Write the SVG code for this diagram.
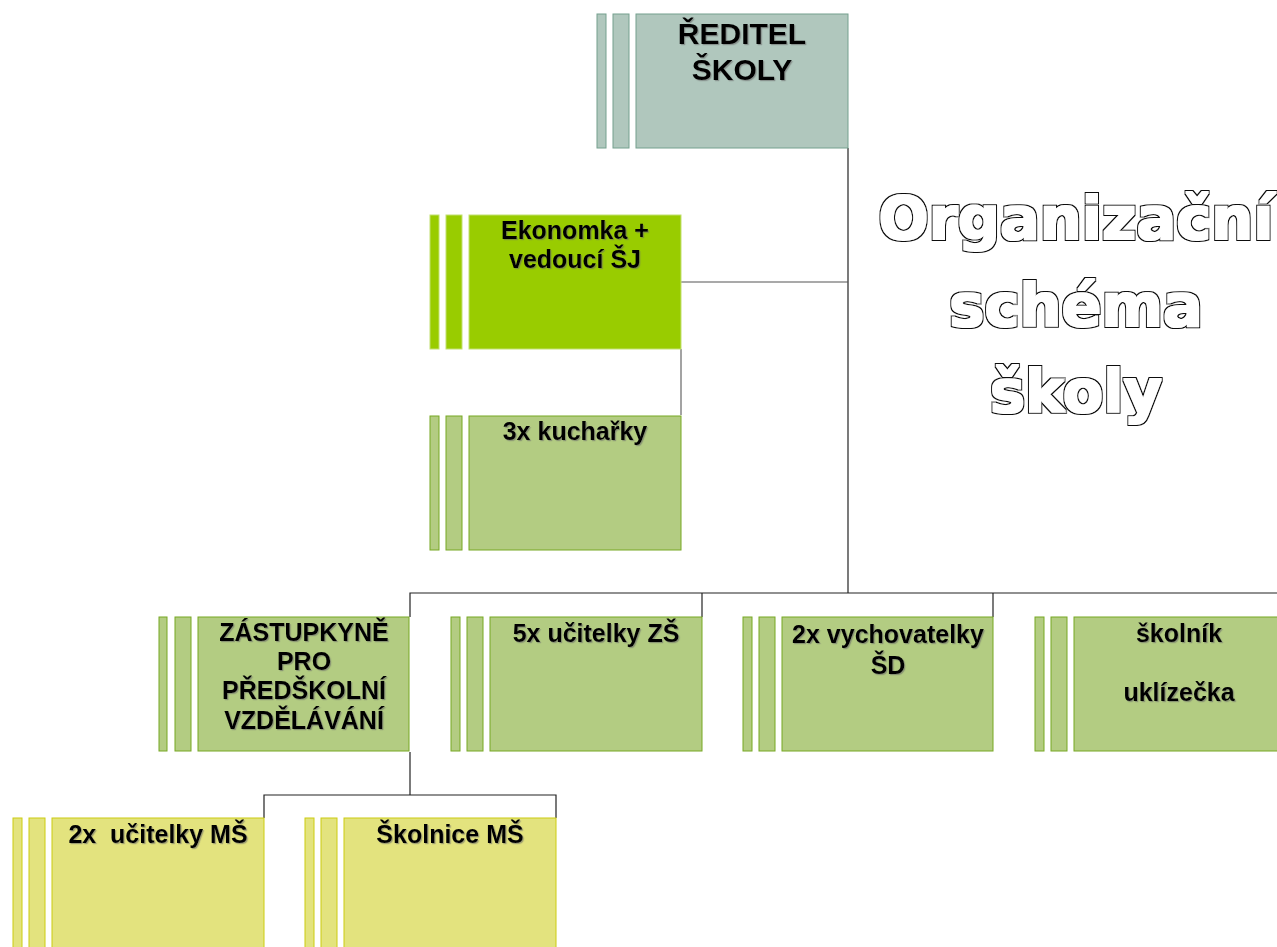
<svg xmlns="http://www.w3.org/2000/svg" width="1277" height="947" viewBox="0 0 1277 947">
<defs>
<filter id="sh" x="-10%" y="-10%" width="120%" height="130%">
<feDropShadow dx="1.2" dy="1.2" stdDeviation="0.4" flood-color="#666" flood-opacity="0.55"/>
</filter>
<filter id="outline" x="-5%" y="-25%" width="110%" height="150%">
<feMorphology in="SourceAlpha" operator="dilate" radius="0.8" result="fat"/>
<feMorphology in="SourceAlpha" operator="dilate" radius="1.8" result="outer"/>
<feComposite in="outer" in2="fat" operator="out" result="ring"/>
<feFlood flood-color="#111" result="blk"/>
<feComposite in="blk" in2="ring" operator="in" result="ringb"/>
<feFlood flood-color="#fff" result="wht"/>
<feComposite in="wht" in2="fat" operator="in" result="fillw"/>
<feMerge><feMergeNode in="fillw"/><feMergeNode in="ringb"/></feMerge>
</filter>
</defs>
<style>
.t{font-family:"Liberation Sans",Arial,sans-serif;font-weight:bold;font-size:25px;fill:#000;text-anchor:middle;filter:url(#sh)}
.big{font-size:30px}
.gray rect{fill:#b0c7bd;stroke:#74a08e;stroke-width:1}
.lime rect{fill:#99cc00;stroke:#c2e070;stroke-width:1}
.lg rect{fill:#b3cc82;stroke:#77a822;stroke-width:1}
.ye rect{fill:#e3e37e;stroke:#cccc11;stroke-width:1}
.c{stroke:#222;stroke-width:1.2;fill:none}
.title{font-family:"DejaVu Sans",sans-serif;font-weight:bold;font-size:59px;fill:#000;text-anchor:middle;filter:url(#outline)}
</style>
<rect width="1277" height="947" fill="#fff"/>
<g id="connectors">
<path class="c" d="M848 148V593"/>
<path class="c" d="M681 282H848" style="stroke:#555"/>
<path class="c" d="M681 349V415" style="stroke:#666"/>
<path class="c" d="M410 617V593H1277"/>
<path class="c" d="M702 593V617"/>
<path class="c" d="M993 593V617"/>
<path class="c" d="M410 752V795"/>
<path class="c" d="M264 818V795H556V818"/>
</g>
<g id="reditel" class="gray">
<rect x="597" y="14" width="9" height="134"/>
<rect x="613" y="14" width="16" height="134"/>
<rect x="636" y="14" width="212" height="134"/>
<text class="t big" x="742" y="44">ŘEDITEL</text>
<text class="t big" x="742" y="80">ŠKOLY</text>
</g>
<g id="ekonomka" class="lime">
<rect x="430" y="215" width="9" height="134"/>
<rect x="446" y="215" width="16" height="134"/>
<rect x="469" y="215" width="212" height="134"/>
<text class="t" x="575" y="239">Ekonomka +</text>
<text class="t" x="575" y="268">vedoucí ŠJ</text>
</g>
<g id="kucharky" class="lg">
<rect x="430" y="416" width="9" height="134"/>
<rect x="446" y="416" width="16" height="134"/>
<rect x="469" y="416" width="212" height="134"/>
<text class="t" x="575" y="440">3x kuchařky</text>
</g>
<g id="zastupkyne" class="lg">
<rect x="159" y="617" width="8" height="134"/>
<rect x="175" y="617" width="16" height="134"/>
<rect x="198" y="617" width="211" height="134"/>
<text class="t" x="304" y="641">ZÁSTUPKYNĚ</text>
<text class="t" x="304" y="670">PRO</text>
<text class="t" x="304" y="699">PŘEDŠKOLNÍ</text>
<text class="t" x="304" y="729">VZDĚLÁVÁNÍ</text>
</g>
<g id="ucitelkyZS" class="lg">
<rect x="451" y="617" width="9" height="134"/>
<rect x="467" y="617" width="16" height="134"/>
<rect x="490" y="617" width="212" height="134"/>
<text class="t" x="596" y="642">5x učitelky ZŠ</text>
</g>
<g id="vychovatelky" class="lg">
<rect x="743" y="617" width="9" height="134"/>
<rect x="759" y="617" width="16" height="134"/>
<rect x="782" y="617" width="211" height="134"/>
<text class="t" x="888" y="643">2x vychovatelky</text>
<text class="t" x="888" y="674">ŠD</text>
</g>
<g id="skolnik" class="lg">
<rect x="1035" y="617" width="9" height="134"/>
<rect x="1051" y="617" width="16" height="134"/>
<rect x="1074" y="617" width="211" height="134"/>
<text class="t" x="1179" y="642">školník</text>
<text class="t" x="1179" y="701">uklízečka</text>
</g>
<g id="ucitelkyMS" class="ye">
<rect x="13" y="818" width="9" height="140"/>
<rect x="29" y="818" width="16" height="140"/>
<rect x="52" y="818" width="212" height="140"/>
<text class="t" x="158" y="843" xml:space="preserve">2x  učitelky MŠ</text>
</g>
<g id="skolniceMS" class="ye">
<rect x="305" y="818" width="9" height="140"/>
<rect x="321" y="818" width="16" height="140"/>
<rect x="344" y="818" width="212" height="140"/>
<text class="t" x="450" y="843">Školnice MŠ</text>
</g>
<g id="title">
<text class="title" x="1076" y="239">Organizační</text>
<text class="title" x="1076" y="326">schéma</text>
<text class="title" x="1076" y="412">školy</text>
</g>
</svg>
